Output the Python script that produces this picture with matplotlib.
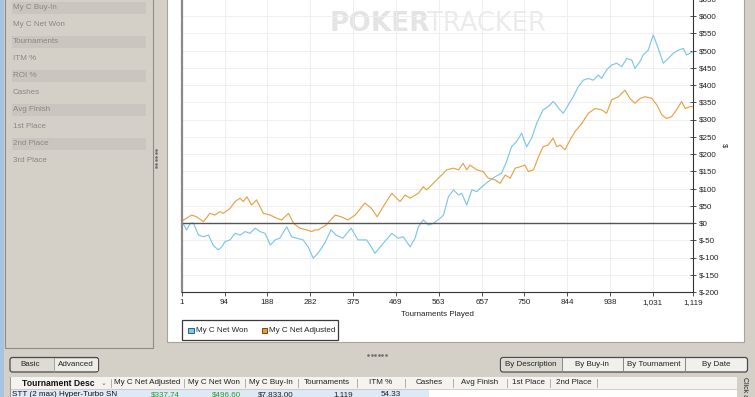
import matplotlib
matplotlib.use('Agg')
import matplotlib.pyplot as plt
from matplotlib.patches import Rectangle, FancyBboxPatch

plt.rcParams['font.family'] = ['Liberation Sans', 'DejaVu Sans']

# --- data (tournament number, dollars) ---
adj_n = [1, 2, 11, 22, 33, 48, 62, 73, 84, 91, 106, 117, 128, 135, 143, 153, 164, 179,
         194, 208, 219, 234, 245, 259, 274, 285, 292, 299, 316, 336, 349, 364, 380, 401,
         415, 428, 441, 460, 478, 489, 500, 518, 529, 536, 547, 558, 569, 580, 595, 606,
         616, 624, 631, 646, 660, 671, 686, 697, 708, 719, 730, 741, 751, 759, 770, 781,
         791, 802, 813, 821, 828, 839, 850, 861, 876, 890, 905, 919, 930, 941, 956, 970,
         981, 992, 1003, 1014, 1029, 1040, 1051, 1061, 1072, 1083, 1094, 1102, 1112, 1119]
adj_val = [0, 7, 14, 23, 18, 4, 28, 23, 33, 28, 42, 62, 72, 62, 76, 52, 67, 28,
           23, 14, 9, 28, -1, -15, -20, -25, -20, -20, -6, 23, 18, 9, 23, 58,
           43, 18, 47, 86, 62, 81, 72, 86, 105, 96, 110, 125, 139, 154, 159, 154,
           173, 154, 168, 154, 149, 130, 125, 115, 139, 130, 159, 163, 168, 149, 154, 192,
           221, 226, 246, 221, 226, 212, 241, 265, 289, 318, 332, 328, 318, 357, 366, 385,
           361, 347, 361, 366, 361, 342, 313, 303, 308, 328, 352, 332, 337, 337.74]

won_n = [1, 3, 11, 19, 26, 37, 48, 59, 69, 80, 88, 95, 106, 117, 128, 139, 150, 161,
         172, 183, 194, 205, 215, 230, 241, 252, 266, 277, 288, 299, 313, 327, 338, 353,
         371, 386, 405, 415, 423, 441, 460, 474, 485, 500, 511, 518, 529, 540, 551, 566,
         573, 584, 595, 606, 613, 624, 635, 646, 657, 671, 686, 700, 711, 722, 733, 744,
         755, 766, 777, 791, 802, 813, 817, 828, 835, 846, 857, 868, 879, 890, 901, 912,
         919, 930, 941, 952, 963, 974, 985, 992, 1003, 1010, 1021, 1032, 1043, 1054, 1065,
         1076, 1087, 1098, 1105, 1112, 1119]
won_val = [0, 0, -20, -1, 0, -35, -40, -35, -64, -78, -69, -54, -49, -30, -35, -25, -30, -15,
           -25, -30, -64, -49, -44, -11, -40, -44, -49, -69, -102, -87, -59, -20, -35, -44,
           -15, -49, -49, -69, -88, -59, -30, -44, -40, -69, -44, -11, 9, -6, -1, 14,
           23, 76, 96, 81, 86, 52, 96, 91, 105, 120, 134, 144, 178, 221, 236, 260,
           221, 246, 289, 328, 337, 352, 347, 328, 318, 342, 366, 395, 414, 419, 414, 429,
           419, 444, 458, 463, 453, 477, 472, 448, 468, 487, 501, 545, 506, 463, 477,
           492, 501, 506, 487, 492, 496.60]

x_ticks = [1, 94, 188, 282, 375, 469, 563, 657, 750, 844, 938, 1031, 1119]
y_ticks = list(range(-200, 651, 50))

side_items = ['My C Buy-In', 'My C Net Won', 'Tournaments', 'ITM %', 'ROI %',
              'Cashes', 'Avg Finish', '1st Place', '2nd Place', '3rd Place']
table_cols = ['Tournament Desc', 'My C Net Adjusted', 'My C Net Won', 'My C Buy-In',
              'Tournaments', 'ITM %', 'Cashes', 'Avg Finish', '1st Place', '2nd Place']
row_desc = 'STT (2 max) Hyper-Turbo SN'
row_values = ['$337.74', '$496.60', '$7,833.00', '1,119', '54.33']
row_colors = ['#2e9a2e', '#2e9a2e', '#222222', '#222222', '#222222']
group_buttons = ['By Description', 'By Buy-in', 'By Tournament', 'By Date']

UI = '#d4d0c8'
TXT = 5.8

fig = plt.figure(figsize=(7.55, 3.97), dpi=100, facecolor=UI)

# background axes in pixel coordinates for the window chrome
bg = fig.add_axes([0, 0, 1, 1], zorder=0)
bg.set_xlim(0, 755)
bg.set_ylim(397, 0)
bg.axis('off')


def box(x, y, w, h, fc, ec='none', lw=0.8):
    bg.add_patch(Rectangle((x, y), w, h, facecolor=fc, edgecolor=ec, linewidth=lw))


# left blue frame edge and filter panel
box(0, 0, 4, 397, '#a8c3df')
box(5, -3, 148, 351, UI, ec='#8f8c85')
for i, name in enumerate(side_items):
    yc = 7.5 + 17 * i
    if i % 2 == 0:
        box(12, yc - 6, 134, 12.5, '#cac6bf')
    bg.text(13, yc, name, fontsize=TXT, color='#8a8883', va='center')
for k in range(6):
    bg.plot(155.5, 150 + 3.4 * k, 's', ms=0.8, color='#6f6d68')

# chart panel
box(167, -3, 577, 345, 'white', ec='#a8a49c')
bg.text(330, 24, 'POKER', fontsize=19, fontweight='bold', color='#e4e4e4',
        va='center', family='DejaVu Sans')
bg.text(427, 24, 'TRACKER', fontsize=18.5, color='#ebebeb', va='center',
        family='DejaVu Sans')

# legend
box(182, 320, 156, 20, 'white', ec='#3a3a3a', lw=0.9)
box(188, 327.5, 5.5, 5.5, '#7ec6ea', ec='#2a5f8a', lw=0.7)
bg.text(196, 330.5, 'My C Net Won', fontsize=TXT, va='center', color='#222222')
box(261.5, 327.5, 5.5, 5.5, '#ec9a3a', ec='#7a4510', lw=0.7)
bg.text(269, 330.5, 'My C Net Adjusted', fontsize=TXT, va='center', color='#222222')

# splitter dots under the chart
for k in range(6):
    bg.plot(368 + 3.6 * k, 354.5, 's', ms=0.8, color='#6f6d68')

# Basic / Advanced toggle
bg.add_patch(FancyBboxPatch((10, 357.5), 88.5, 14.5, boxstyle='round,pad=0,rounding_size=2.5',
                            facecolor='#dedbd4', edgecolor='#4a4a4a', linewidth=0.9))
box(53.5, 358.5, 44, 12.5, '#eeece7')
bg.plot([53.5, 53.5], [358, 371.5], color='#9a968e', lw=0.6)
bg.text(30.5, 365, 'Basic', fontsize=TXT, ha='center', va='center', color='#222222')
bg.text(75.5, 365, 'Advanced', fontsize=TXT, ha='center', va='center', color='#222222')

# grouping buttons
bg.add_patch(FancyBboxPatch((500.5, 357.5), 247, 14.5, boxstyle='round,pad=0,rounding_size=2.5',
                            facecolor='#f1f0ec', edgecolor='#4a4a4a', linewidth=0.9))
edges = [500.5, 561.5, 622.5, 685, 747.5]
box(501.5, 358.5, 60, 12.5, '#dcd9d2')
for k, name in enumerate(group_buttons):
    if k > 0:
        bg.plot([edges[k], edges[k]], [358, 371.5], color='#8a867e', lw=0.7)
    bg.text((edges[k] + edges[k + 1]) / 2, 365, name, fontsize=TXT, ha='center',
            va='center', color='#222222')

# results table
box(10, 376.5, 727, 25, 'white', ec='#9a968e', lw=0.7)
box(10.5, 377, 726, 11.5, '#f4f3ef')
bg.plot([10.5, 736.5], [388.5, 388.5], color='#c8c5be', lw=0.6)
seps = [10, 110.5, 184, 244.5, 297.5, 357, 405, 452.5, 506.5, 550, 597]
for k, name in enumerate(table_cols):
    if k > 0:
        bg.plot([seps[k], seps[k]], [378.5, 387], color='#a8a49c', lw=0.6)
    if k == 0:
        bg.text(58, 383, name, fontsize=6.2, fontweight='bold', ha='center', va='center',
                color='#111111')
        bg.text(103.5, 383, '\u2304', fontsize=5, ha='center', va='center', color='#666666',
                family='DejaVu Sans')
    else:
        bg.text((seps[k] + seps[k + 1]) / 2, 383, name, fontsize=TXT, ha='center',
                va='center', color='#222222')
bg.plot([597, 597], [378.5, 387], color='#a8a49c', lw=0.6)
box(10.5, 389, 418, 10, '#dce9f6')
bg.text(12, 395, row_desc, fontsize=TXT, va='center', color='#111111')
for k, val in enumerate(row_values):
    bg.text(seps[k + 2] - 4, 395, val, fontsize=TXT, ha='right', va='center',
            color=row_colors[k])
box(737, 376.5, 18, 25, UI)
bg.text(744.5, 377, 'Click a', fontsize=5, rotation=270, ha='center', va='top',
        color='#222222')

# --- the line chart ---
ax = fig.add_axes([182 / 755, (397 - 292) / 397, 511 / 755, 293.25 / 397], zorder=1)
ax.set_facecolor('none')
ax.plot(won_n, won_val, color='#7ec6ea', lw=0.85)
ax.plot(adj_n, adj_val, color='#e8a246', lw=0.85)
ax.axhline(0, color='#555555', lw=1.0)
ax.set_xlim(1, 1119)
ax.set_ylim(-200, 650)

ax.set_xticks(x_ticks)
ax.set_xticklabels([f'{t:,}' for t in x_ticks])
ax.yaxis.tick_right()
ax.set_yticks(y_ticks)
ax.set_yticklabels([f'${v}' for v in y_ticks])
ax.tick_params(axis='x', labelsize=TXT, length=3, width=0.6, color='#333333', pad=2,
               labelcolor='#222222')
ax.tick_params(axis='y', labelsize=TXT, length=5, direction='inout', width=0.6,
               color='#333333', pad=1.5, labelcolor='#222222')
ax.grid(True, color='#ededed', lw=0.6)
ax.set_axisbelow(True)

ax.spines['top'].set_visible(False)
ax.spines['left'].set_color('#8a8a8a')
ax.spines['left'].set_linewidth(1.6)
ax.spines['bottom'].set_color('#333333')
ax.spines['bottom'].set_linewidth(0.8)
ax.spines['right'].set_color('#333333')
ax.spines['right'].set_linewidth(0.8)

ax.set_xlabel('Tournaments Played', fontsize=TXT, labelpad=4, color='#222222')
ax.yaxis.set_label_position('right')
ax.set_ylabel('$', fontsize=5.5, rotation=270, labelpad=6, color='#222222')

fig.savefig('out.png', dpi=100, facecolor=UI)
